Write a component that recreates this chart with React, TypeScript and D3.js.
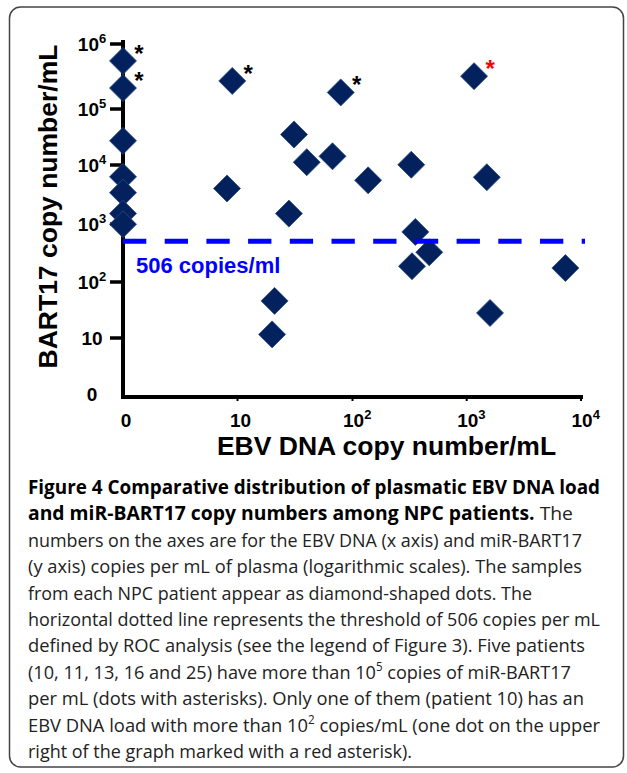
import * as d3 from "d3";

// EBV DNA (x) and miR-BART17 (y) copies per mL, one entry per patient
const ebvDna = [0, 0, 0, 0, 0, 0, 0, 9, 79, 1160, 31, 40, 67, 137, 8.1, 28, 327, 1500, 355, 470, 332, 7300, 1600, 21, 20];
const bart17 = [
  5.5e5, 2.1e5, 2.7e4, 6300, 3400, 1500, 990, 2.7e5, 1.8e5, 3.2e5, 35000, 11200, 14300, 5500, 4000, 1500,
  10100, 6200, 730, 325, 187, 174, 28, 46, 11.6,
];
const asterisk = ["black", "black", "", "", "", "", "", "black", "black", "red", "", "", "", "", "", "", "", "", "", "", "", "", "", "", ""];

const xExponents = [0, 1, 2, 3, 4];
const yExponents = [0, 1, 2, 3, 4, 5, 6];
const threshold = 506;
const thresholdLabel = "506 copies/ml";
const xTitle = "EBV DNA copy number/mL";
const yTitle = "BART17 copy number/mL";

type Seg = { t: string; b?: boolean; sup?: boolean };
const captionLines: Seg[][] = [
  [{ t: "Figure 4 Comparative distribution of plasmatic EBV DNA load", b: true }],
  [{ t: "and miR-BART17 copy numbers among NPC patients.", b: true }, { t: " The" }],
  [{ t: "numbers on the axes are for the EBV DNA (x axis) and miR-BART17" }],
  [{ t: "(y axis) copies per mL of plasma (logarithmic scales). The samples" }],
  [{ t: "from each NPC patient appear as diamond-shaped dots. The" }],
  [{ t: "horizontal dotted line represents the threshold of 506 copies per mL" }],
  [{ t: "defined by ROC analysis (see the legend of Figure 3). Five patients" }],
  [{ t: "(10, 11, 13, 16 and 25) have more than 10" }, { t: "5", sup: true }, { t: " copies of miR-BART17" }],
  [{ t: "per mL (dots with asterisks). Only one of them (patient 10) has an" }],
  [{ t: "EBV DNA load with more than 10" }, { t: "2", sup: true }, { t: " copies/mL (one dot on the upper" }],
  [{ t: "right of the graph marked with a red asterisk)." }],
];
const captionWidths = [572, 545, 554, 554, 504, 572, 557, 543, 556, 572, 384];

const decade = (v: number) => (v <= 0 ? 0 : Math.log10(v));

export default function App() {
  const width = 627;
  const height = 773;
  const chartFont = "'Liberation Sans', Arial, sans-serif";
  const captionFont = "'Open Sans', sans-serif";

  // tick decades are not quite evenly spaced in the original, so piecewise scales
  const x = d3.scaleLinear().domain(xExponents).range([123, 237.5, 352.5, 466.7, 581]);
  const y = d3.scaleLinear().domain(yExponents).range([397, 338, 282, 224, 165, 109, 44]);
  const x0 = x(0);
  const xEnd = x(4) + 2;
  const y0 = y(0);
  const yThr = y(decade(threshold));
  const r = 13.5;

  const diamond = (cx: number, cy: number) => `M${cx},${cy - r}L${cx + r},${cy}L${cx},${cy + r}L${cx - r},${cy}Z`;

  return (
    <svg width={width} height={height} style={{ position: "absolute", left: 0, top: 0 }}>
      <rect x={9.5} y={7} width={614} height={760} rx={11} fill="#fff" stroke="#444" strokeWidth={1.5} />

      <g fontFamily={chartFont} fontWeight="bold" fill="#000">
        {/* axes */}
        <line x1={x0} x2={x0} y1={40} y2={y0 + 2} stroke="#000" strokeWidth={4} />
        <line x1={x0 - 2} x2={xEnd} y1={y0} y2={y0} stroke="#000" strokeWidth={4} />
        {yExponents.map((e) => (
          <g key={`y-${e}`}>
            {e > 0 && <line x1={x0 - 13} x2={x0} y1={y(e)} y2={y(e)} stroke="#000" strokeWidth={3.5} />}
            <text x={92} y={e === 0 ? y(e) + 4 : y(e) + 7} textAnchor="middle" fontSize={19}>
              {e === 0 ? "0" : "10"}
              {e > 1 && (
                <tspan fontSize={13} dy={-8}>
                  {e}
                </tspan>
              )}
            </text>
          </g>
        ))}
        {xExponents.map((e) => (
          <g key={`x-${e}`}>
            {e > 0 && <line x1={x(e)} x2={x(e)} y1={y0} y2={y0 + 4} stroke="#000" strokeWidth={2} />}
            {e < 2 ? (
              <text x={x(e) + 3} y={427} textAnchor="middle" fontSize={19}>
                {e === 0 ? "0" : "10"}
              </text>
            ) : (
              <text x={x(e) - 9.5} y={427} fontSize={19}>
                10
                <tspan fontSize={13} dy={-8}>
                  {e}
                </tspan>
              </text>
            )}
          </g>
        ))}
        <text x={(215 + 558) / 2} y={455} textAnchor="middle" fontSize={26.5}>
          {xTitle}
        </text>
        <text transform={`translate(57, ${(373 + 40) / 2}) rotate(-90)`} textAnchor="middle" fontSize={26.5}>
          {yTitle}
        </text>

        {/* patients */}
        {ebvDna.map((v, i) => {
          const cx = x(decade(v));
          const cy = y(decade(bart17[i]));
          return (
            <g key={`p-${i}`}>
              <path d={diamond(cx, cy)} fill="#03215c" stroke="#2b4a7e" strokeWidth={0.8} />
              {asterisk[i] && (
                <text x={cx + 16} y={cy + 1} textAnchor="middle" fontSize={24} fill={asterisk[i] === "red" ? "#ff0000" : "#000"}>
                  *
                </text>
              )}
            </g>
          );
        })}

        {/* ROC threshold */}
        <line x1={x0} x2={xEnd + 2} y1={yThr} y2={yThr} stroke="#0000ff" strokeWidth={5} strokeDasharray="23.3 18.4" />
        <text x={136} y={273} fontSize={22} fill="#0000ff">
          {thresholdLabel}
        </text>
      </g>

      <g fontFamily={captionFont} fontSize={19}>
        {captionLines.map((segs, i) => (
          <text
            key={`c-${i}`}
            x={28}
            y={494 + i * 26.4}
            textLength={captionWidths[i]}
            lengthAdjust="spacingAndGlyphs"
            fill="#222"
          >
            {segs.map((s, j) => (
              <tspan
                key={j}
                fontWeight={s.b ? "bold" : "normal"}
                fill={s.b ? "#000" : "#222"}
                fontSize={s.sup ? 12 : 19}
                dy={s.sup ? -8 : j > 0 && segs[j - 1].sup ? 8 : 0}
              >
                {s.t}
              </tspan>
            ))}
          </text>
        ))}
      </g>
    </svg>
  );
}
